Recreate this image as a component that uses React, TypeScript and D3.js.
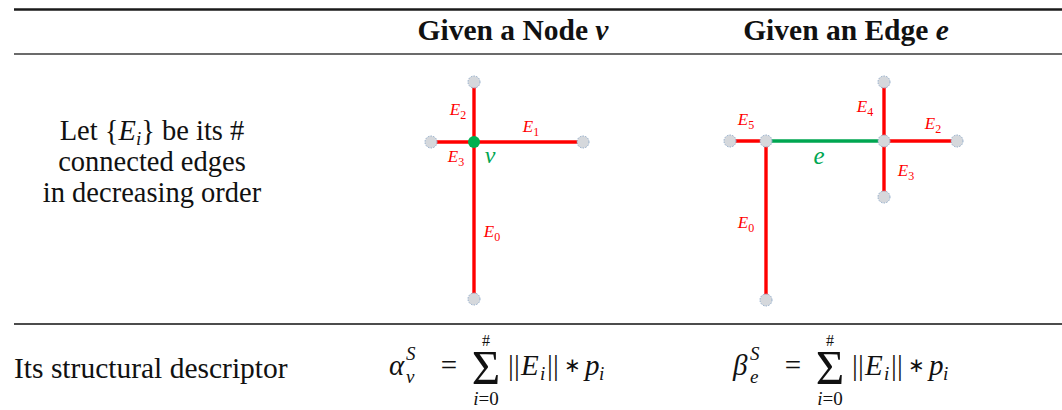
import * as d3 from 'd3';
import React from 'react';

// table layout text
const headerTitles = ['Given a Node', 'Given an Edge'];
const headerSymbols = ['v', 'e'];
const rowOneLines = ['connected edges', 'in decreasing order'];
const rowTwoLabel = 'Its structural descriptor';
const formulaSymbols = ['α', 'β'];
const formulaSubs = ['v', 'e'];

// node diagram: offsets (px units) from the centre node v
const nodeGraphNodes = [
  { id: 'v', x: 0, y: 0, focus: true },
  { id: 'a', x: 0, y: -60, focus: false },
  { id: 'b', x: -43, y: 0, focus: false },
  { id: 'c', x: 109, y: 0, focus: false },
  { id: 'd', x: 0, y: 157, focus: false },
];
const nodeGraphEdges = [
  { s: 'v', t: 'd', label: '0', lx: 18, ly: 90, focus: false },
  { s: 'v', t: 'c', label: '1', lx: 57, ly: -15, focus: false },
  { s: 'v', t: 'a', label: '2', lx: -16, ly: -32, focus: false },
  { s: 'v', t: 'b', label: '3', lx: -18, ly: 15, focus: false },
];

// edge diagram: offsets from the left end of e
const edgeGraphNodes = [
  { id: 'A', x: 0, y: 0 },
  { id: 'B', x: 118, y: 0 },
  { id: 'L', x: -36, y: 0 },
  { id: 'R', x: 191, y: 0 },
  { id: 'T', x: 118, y: -59 },
  { id: 'U', x: 118, y: 56 },
  { id: 'D', x: 0, y: 159 },
];
const edgeGraphEdges = [
  { s: 'A', t: 'B', label: 'e', lx: 53, ly: 16, focus: true },
  { s: 'A', t: 'D', label: '0', lx: -20, ly: 82, focus: false },
  { s: 'B', t: 'R', label: '2', lx: 167, ly: -17, focus: false },
  { s: 'B', t: 'U', label: '3', lx: 140, ly: 30, focus: false },
  { s: 'B', t: 'T', label: '4', lx: 99, ly: -34, focus: false },
  { s: 'A', t: 'L', label: '5', lx: -20, ly: -21, focus: false },
];

const W = 1062;
const H = 410;
const RED = '#ff0000';
const GREEN = '#00a651';
const SERIF = '"Liberation Serif", "Times New Roman", serif';

function Graph({ nodes, edges, cx, cy, centerLabel }: any) {
  const x = d3.scaleLinear().domain([0, 1]).range([cx, cx + 1]);
  const y = d3.scaleLinear().domain([0, 1]).range([cy, cy + 1]);
  const byId = new Map(nodes.map((n: any) => [n.id, n]));
  return (
    <g>
      {edges.map((e: any, i: number) => {
        const a: any = byId.get(e.s);
        const b: any = byId.get(e.t);
        return (
          <line key={'l' + i} x1={x(a.x)} y1={y(a.y)} x2={x(b.x)} y2={y(b.y)}
            stroke={e.focus ? GREEN : RED} strokeWidth={3.4} />
        );
      })}
      {nodes.map((n: any) => (
        n.focus
          ? <circle key={n.id} cx={x(n.x)} cy={y(n.y)} r={6} fill="#00b050" />
          : <circle key={n.id} cx={x(n.x)} cy={y(n.y)} r={6} fill="#d5d8dc"
              stroke="#8ea9c8" strokeWidth={1} strokeDasharray="1.5 1.2" />
      ))}
      {edges.map((e: any, i: number) => (
        e.focus
          ? <text key={'t' + i} x={x(e.lx)} y={y(e.ly) + 7} textAnchor="middle"
              fontFamily={SERIF} fontStyle="italic" fontSize={25} fill={GREEN}>{e.label}</text>
          : <text key={'t' + i} x={x(e.lx)} y={y(e.ly) + 5} textAnchor="middle"
              fontFamily={SERIF} fontStyle="italic" fontSize={17} fill={RED}>
              E<tspan fontSize={12} dy={4} fontStyle="normal">{e.label}</tspan>
            </text>
      ))}
      {centerLabel && (
        <text x={x(centerLabel.x)} y={y(centerLabel.y) + 6} textAnchor="middle"
          fontFamily={SERIF} fontStyle="italic" fontSize={24} fill={GREEN}>{centerLabel.text}</text>
      )}
    </g>
  );
}

function Formula({ x0, sym, sub }: any) {
  const base = 375;
  const bar = (dx: number) => (
    <text x={x0 + dx} y={base} fontSize={29} textAnchor="middle">|</text>
  );
  return (
    <g fontFamily={SERIF} fill="#111">
      <text x={x0} y={base} fontSize={29} fontStyle="italic">{sym}</text>
      <text x={x0 + 17} y={base - 15} fontSize={19} fontStyle="italic">S</text>
      <text x={x0 + 17} y={base + 8} fontSize={19} fontStyle="italic">{sub}</text>
      <text x={x0 + 60} y={base} fontSize={29} textAnchor="middle">=</text>
      <text x={x0 + 97} y={base + 9} fontSize={49} textAnchor="middle">Σ</text>
      <text x={x0 + 97} y={base - 29} fontSize={16} textAnchor="middle">#</text>
      <text x={x0 + 97} y={base + 30} fontSize={19} textAnchor="middle">
        <tspan fontStyle="italic">i</tspan>=0
      </text>
      {bar(122)}
      {bar(128)}
      <text x={x0 + 132} y={base} fontSize={29} fontStyle="italic">E</text>
      <text x={x0 + 151} y={base + 5} fontSize={19} fontStyle="italic">i</text>
      {bar(161)}
      {bar(167)}
      <text x={x0 + 183} y={base - 3} fontSize={20} textAnchor="middle">∗</text>
      <text x={x0 + 196} y={base} fontSize={29} fontStyle="italic">p</text>
      <text x={x0 + 210} y={base + 5} fontSize={19} fontStyle="italic">i</text>
    </g>
  );
}

export default function App() {
  const headerX = [513, 846];
  const formulaX = [389, 733];
  return (
    <svg width={W} height={H} style={{ position: 'absolute', left: 0, top: 0, background: '#fff' }}>
      <rect width={W} height={H} fill="#fff" />
      {/* rules */}
      <line x1={14} x2={W} y1={9.5} y2={9.5} stroke="#1a1a1a" strokeWidth={2.4} />
      <line x1={14} x2={W} y1={54} y2={54} stroke="#3a3a3a" strokeWidth={1.6} />
      <line x1={14} x2={W} y1={324} y2={324} stroke="#111" strokeWidth={1.3} />

      {/* header */}
      {headerTitles.map((t, i) => (
        <text key={t} x={headerX[i]} y={40} textAnchor="middle" fontFamily={SERIF}
          fontWeight="bold" fontSize={29.5} fill="#111">
          {t} <tspan fontStyle="italic">{headerSymbols[i]}</tspan>
        </text>
      ))}

      {/* first row label */}
      <g fontFamily={SERIF} fontSize={28.5} fill="#111" textAnchor="middle">
        <text x={152} y={140}>
          {'Let {'}<tspan fontStyle="italic">E</tspan>
          <tspan fontStyle="italic" fontSize={19} dy={5}>i</tspan>
          <tspan dy={-5}>{'} be its #'}</tspan>
        </text>
        {rowOneLines.map((l, i) => (
          <text key={l} x={152} y={171 + i * 31}>{l}</text>
        ))}
      </g>

      <Graph nodes={nodeGraphNodes} edges={nodeGraphEdges} cx={474} cy={142}
        centerLabel={{ x: 16, y: 15, text: 'v' }} />
      <Graph nodes={edgeGraphNodes.map(n => ({ ...n, focus: false }))} edges={edgeGraphEdges}
        cx={766} cy={141} />

      {/* second row */}
      <text x={14} y={378} fontFamily={SERIF} fontSize={29.5} fill="#111">{rowTwoLabel}</text>
      {formulaSymbols.map((s, i) => (
        <Formula key={s} x0={formulaX[i]} sym={s} sub={formulaSubs[i]} />
      ))}
    </svg>
  );
}
